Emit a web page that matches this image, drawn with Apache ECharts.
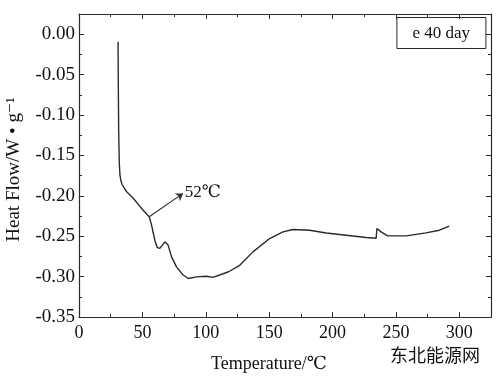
<!DOCTYPE html>
<html>
<head>
<meta charset="utf-8">
<script src="https://cdn.jsdelivr.net/npm/echarts@6/dist/echarts.min.js"></script>
<style>
  html, body { margin: 0; padding: 0; background: #fff; }
  #chart { width: 500px; height: 378px; }
</style>
</head>
<body>
<div id="chart"></div>
<script>
// DSC curve, sample e after 40 days
const temps = [30.8, 31.0, 31.3, 31.8, 32.3, 33.0, 34.0, 35.5, 37.6, 42.8, 50.6, 55.4, 57.2, 59.8, 61.7, 63.8, 67.7,
  70.3, 73.0, 76.9, 82.1, 86.1, 92.7, 100.6, 105.5, 111.0, 118.0, 126.8, 137.2, 150.4, 160.9, 168.7,
  181.9, 195.0, 210.8, 226.5, 234.4, 235.0, 238.3, 243.5, 258.0, 273.8, 284.3, 292.1];
const heatFlow = [-0.0095, -0.06, -0.12, -0.16, -0.174, -0.181, -0.186, -0.19, -0.195, -0.203, -0.218, -0.226, -0.236, -0.255, -0.264, -0.265, -0.257,
  -0.261, -0.2756, -0.288, -0.298, -0.3024, -0.3004, -0.2995, -0.301, -0.298, -0.294, -0.286, -0.2694, -0.2529, -0.2447, -0.2417,
  -0.2426, -0.246, -0.2488, -0.2516, -0.2525, -0.2405, -0.2447, -0.2496, -0.2496, -0.2459, -0.2426, -0.2376];

// annotation arrow: from curve point to label
const arrowFrom = [55.4, -0.226];
const arrowTo = [82.1, -0.197];
const arrowLabel = '52℃';

const legendText = 'e 40 day';

const serif = '"Liberation Serif", "DejaVu Serif", serif';
const ink = '#2a2a2a';

let myChart = echarts.init(document.getElementById('chart'));

const points = temps.map((t, i) => [t, heatFlow[i]]);

const axisCommon = {
  type: 'value',
  axisLine: { show: true, onZero: false, lineStyle: { color: ink, width: 1.2 } },
  axisTick: { show: true, inside: true, length: 5, lineStyle: { color: ink } },
  minorTick: { show: true, splitNumber: 2, length: 3, lineStyle: { color: ink } },
  splitLine: { show: false }
};

let option = {
  animation: false,
  backgroundColor: '#fff',
  title: {
    text: legendText,
    right: 14,
    top: 17,
    padding: [8, 16, 7, 16],
    borderColor: ink,
    borderWidth: 1,
    textStyle: { fontFamily: serif, fontSize: 17, fontWeight: 'normal', color: '#111' }
  },
  grid: { left: 79, right: 9, top: 14, bottom: 61, outerBoundsMode: 'none' },
  xAxis: [
    Object.assign({}, axisCommon, {
      position: 'bottom',
      min: 0, max: 325, interval: 50,
      axisLabel: {
        fontFamily: serif, fontSize: 18, color: '#111', margin: 7,
        formatter: v => (v % 50 === 0 ? String(v) : '')
      }
    }),
    Object.assign({}, axisCommon, {
      position: 'top',
      min: 0, max: 325, interval: 50,
      axisLabel: { show: false }
    })
  ],
  yAxis: [
    Object.assign({}, axisCommon, {
      position: 'left',
      min: -0.35, max: 0.025, interval: 0.05,
      name: 'Heat Flow/W • g⁻¹',
      nameLocation: 'middle',
      nameGap: 55,
      nameTextStyle: { fontFamily: serif, fontSize: 19, color: '#111', padding: [0, 8, 0, 0] },
      axisLabel: {
        fontFamily: serif, fontSize: 19, color: '#111', margin: 4,
        formatter: v => (Math.round(v * 1000) % 50 === 0 ? v.toFixed(2) : '')
      }
    }),
    Object.assign({}, axisCommon, {
      position: 'right',
      min: -0.35, max: 0.025, interval: 0.05,
      axisLabel: { show: false }
    })
  ],
  graphic: [
    {
      type: 'text', left: 211, top: 355,
      style: { text: 'Temperature/℃', fontFamily: serif, fontSize: 18, fill: '#111' }
    },
    {
      type: 'text', left: 390, top: 346,
      style: { text: '东北能源网', fontFamily: '"Noto Sans CJK SC"', fontSize: 18, fill: '#111' }
    }
  ],
  series: [{
    type: 'line',
    data: points,
    showSymbol: false,
    symbol: 'none',
    lineStyle: { color: '#2a2a2a', width: 1.4 },
    markLine: {
      silent: true,
      symbol: ['none', 'arrow'],
      symbolSize: 7,
      lineStyle: { color: '#333', width: 1.2, type: 'solid' },
      label: {
        show: true, position: 'end', formatter: arrowLabel, distance: 2,
        fontFamily: serif, fontSize: 17, color: '#111'
      },
      data: [[{ coord: arrowFrom }, { coord: arrowTo }]]
    }
  }]
};

myChart.setOption(option);
</script>
</body>
</html>
